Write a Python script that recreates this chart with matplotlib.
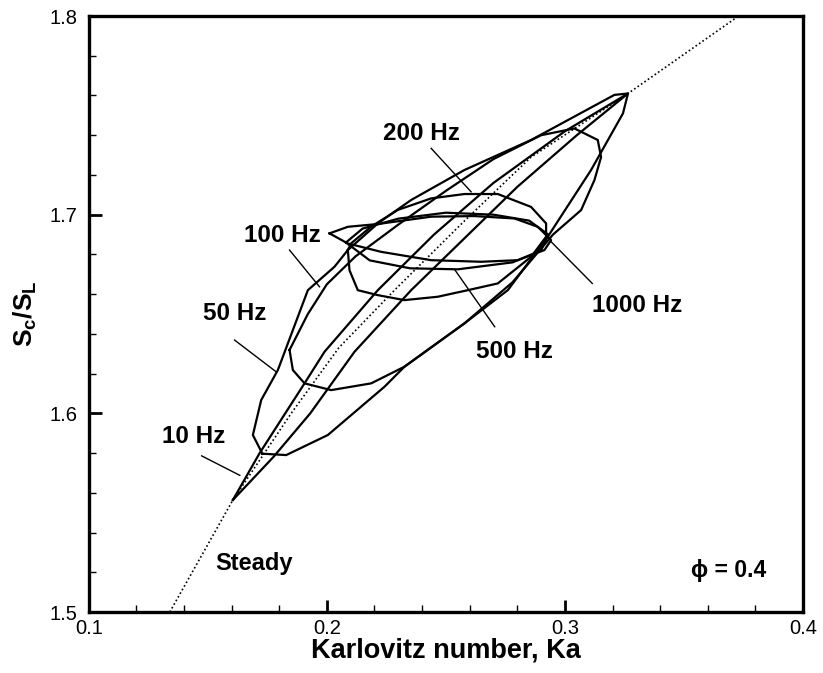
import matplotlib
matplotlib.use("Agg")
import matplotlib.pyplot as plt
import numpy as np

plt.rcParams['font.family'] = ['Liberation Sans', 'DejaVu Sans']
plt.rcParams['mathtext.fontset'] = 'custom'
plt.rcParams['mathtext.rm'] = 'Liberation Sans'
plt.rcParams['mathtext.bf'] = 'Liberation Sans:bold'
plt.rcParams['mathtext.it'] = 'Liberation Sans:italic'

# ---------------- data ----------------
steady_ka = [0.125, 0.134, 0.1605, 0.185, 0.205, 0.2284, 0.2579, 0.2858, 0.3265, 0.373, 0.40]
steady_s = [1.482, 1.500, 1.5564, 1.600, 1.633, 1.662, 1.697, 1.729, 1.761, 1.800, 1.822]

ka_10 = [0.1605, 0.1717, 0.1906, 0.199, 0.2214, 0.245, 0.270, 0.300, 0.3265,
         0.305, 0.280, 0.2354, 0.2116, 0.193, 0.1775, 0.1605]
s_10 = [1.5564, 1.5799, 1.6151, 1.631, 1.662, 1.690, 1.716, 1.742, 1.761,
        1.740, 1.714, 1.662, 1.631, 1.600, 1.578, 1.5564]

ka_50 = [0.1729, 0.1689, 0.1724, 0.1794, 0.1878, 0.192, 0.2032, 0.2088, 0.2214, 0.2354,
         0.2578, 0.2858, 0.3208, 0.3265, 0.3244, 0.311, 0.2928, 0.276, 0.2578, 0.2326,
         0.2242, 0.2004, 0.1829, 0.1729]
s_50 = [1.5797, 1.5891, 1.6067, 1.6218, 1.6486, 1.662, 1.6738, 1.6822, 1.6956, 1.7074,
        1.7225, 1.7376, 1.7603, 1.761, 1.751, 1.7225, 1.6889, 1.662, 1.6453, 1.6235,
        1.6134, 1.5891, 1.579, 1.5797]

ka_100 = [0.1843, 0.1857, 0.1906, 0.2018, 0.2186, 0.2326, 0.2578, 0.278, 0.295, 0.3068,
          0.3124, 0.3152, 0.3138, 0.304, 0.290, 0.270, 0.250, 0.230, 0.212, 0.200, 0.192,
          0.1843]
s_100 = [1.6319, 1.6218, 1.6151, 1.6117, 1.6151, 1.6235, 1.6453, 1.666, 1.690, 1.7023,
         1.7174, 1.729, 1.7376, 1.7434, 1.740, 1.728, 1.712, 1.695, 1.679, 1.665, 1.650,
         1.6319]

ka_200 = [0.2088, 0.2095, 0.2130, 0.2214, 0.2326, 0.2466, 0.2592, 0.2718, 0.2858, 0.2921,
          0.2921, 0.2858, 0.2718, 0.2578, 0.2438, 0.2298, 0.2186, 0.2102, 0.2088]
s_200 = [1.6822, 1.6720, 1.6620, 1.6595, 1.6570, 1.6587, 1.6620, 1.6654, 1.6788, 1.6889,
         1.6956, 1.7039, 1.7104, 1.7104, 1.7082, 1.7024, 1.6940, 1.6856, 1.6822]

ka_500 = [0.208, 0.215, 0.230, 0.250, 0.270, 0.285, 0.293, 0.290, 0.278, 0.255, 0.235,
          0.218, 0.208]
s_500 = [1.686, 1.693, 1.698, 1.701, 1.700, 1.697, 1.690, 1.682, 1.676, 1.6725, 1.673,
         1.677, 1.686]

ka_1000 = [0.2011, 0.2088, 0.2214, 0.2438, 0.2620, 0.2788, 0.2886, 0.2942, 0.2914, 0.2802,
           0.2648, 0.2438, 0.2228, 0.2088, 0.2011]
s_1000 = [1.6906, 1.6939, 1.6953, 1.6990, 1.6993, 1.6981, 1.6939, 1.6872, 1.6822, 1.6771,
          1.6763, 1.6771, 1.6813, 1.6855, 1.6906]

labels = ["10 Hz", "50 Hz", "100 Hz", "200 Hz", "500 Hz", "1000 Hz"]
label_ka = [0.1441, 0.1612, 0.1815, 0.2396, 0.2788, 0.3302]
label_s = [1.5883, 1.6503, 1.6897, 1.7409, 1.631, 1.6545]
ptr_start_ka = [0.1474, 0.1612, 0.1843, 0.2438, 0.2705, 0.3115]
ptr_start_s = [1.5786, 1.6369, 1.6822, 1.7334, 1.6436, 1.6654]
ptr_end_ka = [0.1634, 0.1787, 0.1969, 0.2606, 0.2536, 0.2942]
ptr_end_s = [1.5688, 1.6209, 1.6637, 1.7115, 1.6725, 1.6864]

x_ticks = [0.1, 0.2, 0.3, 0.4]
y_ticks = [1.5, 1.6, 1.7, 1.8]

# ---------------- figure ----------------
fig = plt.figure(figsize=(8.23, 6.73), dpi=100)
ax = fig.add_axes([0.108, 0.0906, 0.8676, 0.8856])

ax.plot(steady_ka, steady_s, color='black', linestyle=(0, (1, 1.5)), linewidth=1.2)
for kx, sy in [(ka_10, s_10), (ka_50, s_50), (ka_100, s_100), (ka_200, s_200),
               (ka_500, s_500), (ka_1000, s_1000)]:
    ax.plot(kx, sy, color='black', linewidth=1.6, solid_joinstyle='round')

for lab, lx, ly, sx, sy_, ex, ey in zip(labels, label_ka, label_s, ptr_start_ka,
                                        ptr_start_s, ptr_end_ka, ptr_end_s):
    ax.text(lx, ly, lab, fontsize=17.5, fontweight='bold', ha='center', va='center')
    ax.plot([sx, ex], [sy_, ey], color='black', linewidth=1.0)

ax.text(0.1529, 1.5243, "Steady", fontsize=17, fontweight='bold', ha='left', va='center')
ax.text(0.3687, 1.521, "ϕ = 0.4", fontsize=16.5, fontweight='bold', ha='center', va='center')

ax.set_xlim(0.1, 0.4)
ax.set_ylim(1.5, 1.8)
ax.set_xticks(x_ticks)
ax.set_yticks(y_ticks)
ax.set_xticklabels([f"{v:.1f}" for v in x_ticks])
ax.set_yticklabels([f"{v:.1f}" for v in y_ticks])
ax.set_xticks(np.arange(0.12, 0.40, 0.02), minor=True)
ax.set_yticks(np.arange(1.52, 1.80, 0.02), minor=True)
ax.tick_params(which='major', direction='in', length=9, width=2, labelsize=14.5,
               top=False, right=False)
ax.tick_params(which='minor', direction='in', length=5, width=1, top=False, right=False)
ax.tick_params(axis='x', which='major', pad=5)
ax.tick_params(axis='y', which='major', pad=8)
for sp in ax.spines.values():
    sp.set_linewidth(2.4)

ax.set_xlabel("Karlovitz number, Ka", fontsize=19.5, fontweight='bold', labelpad=0)
ax.set_ylabel(r"$\mathbf{S_c/S_L}$", fontsize=19, labelpad=8)

fig.savefig("out.png", dpi=100)
